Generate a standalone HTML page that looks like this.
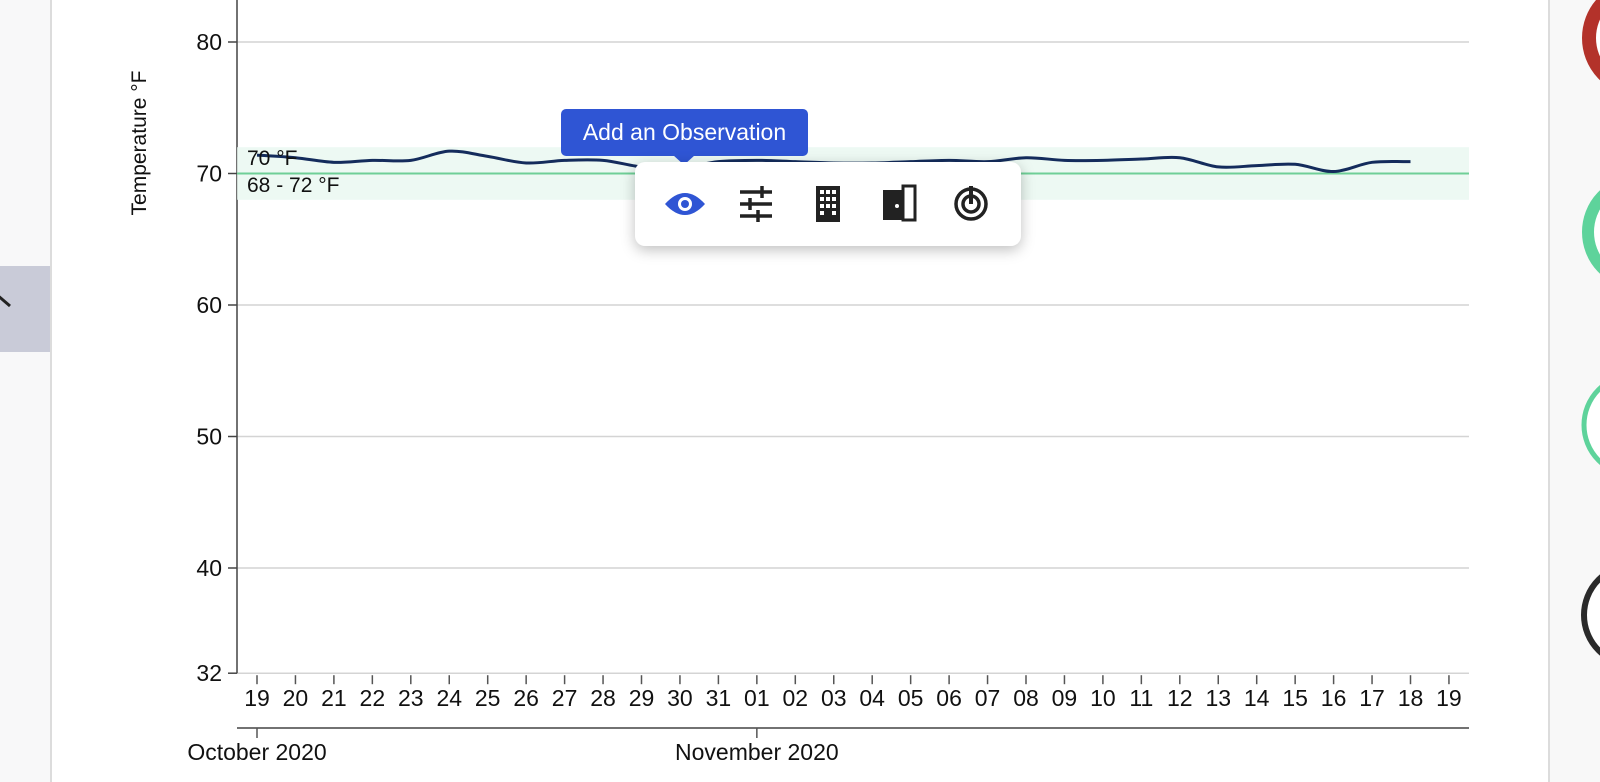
<!DOCTYPE html>
<html><head><meta charset="utf-8"><style>
html,body{margin:0;padding:0;width:1600px;height:782px;overflow:hidden;background:#fff;font-family:"Liberation Sans",sans-serif;}
.lp{position:absolute;left:0;top:0;width:50px;height:782px;background:#f8f8f9;border-right:2px solid #dcdcdc;}
.rp{position:absolute;left:1548px;top:0;width:52px;height:782px;background:#f8f8f8;border-left:2px solid #dcdcdc;overflow:hidden;}
.tab{position:absolute;left:0;top:266px;width:50px;height:86px;background:#c9cbd8;}
.tip{position:absolute;left:561px;top:109px;width:247px;height:47px;background:#2f55d4;border-radius:5px;color:#fff;font-size:23px;line-height:47px;text-align:center;}
.tip:after{content:"";position:absolute;left:112px;top:46px;border:11px solid transparent;border-top:10px solid #2f55d4;}
.menu{position:absolute;left:635px;top:162px;width:386px;height:84px;background:#fff;border-radius:10px;box-shadow:0 4px 14px rgba(0,0,0,0.25);}
</style></head><body>
<div class="lp"></div>
<div class="tab"><svg width="50" height="86"><path d="M-4 28 L10 40" stroke="#222" stroke-width="3" fill="none"/></svg></div>
<div class="rp">
<svg width="52" height="782" style="position:absolute;left:0;top:0">
<ellipse cx="87" cy="38" rx="48" ry="50" fill="#fff" stroke="#b3322a" stroke-width="14"/>
<ellipse cx="86" cy="232" rx="48" ry="50" fill="#fff" stroke="#5ed39b" stroke-width="12"/>
<ellipse cx="84" cy="425" rx="50" ry="50" fill="#fff" stroke="#5ed39b" stroke-width="5"/>
<ellipse cx="84" cy="615" rx="50" ry="50" fill="#fff" stroke="#2a2a2a" stroke-width="6"/>
</svg></div>
<svg id="chart" width="1600" height="782" style="position:absolute;left:0;top:0"></svg>
<div class="tip">Add an Observation</div>
<div class="menu">
<svg width="386" height="84">
<g transform="translate(50,42)"><path d="M-20 0 Q0 -22 20 0 Q0 22 -20 0Z" fill="#2f55d4"/><circle r="7" fill="#fff"/><circle r="4" fill="#2f55d4"/></g>
<g transform="translate(121,42)" stroke="#222" stroke-width="3.5"><line x1="-16" y1="-12" x2="16" y2="-12"/><line x1="-16" y1="0" x2="16" y2="0"/><line x1="-16" y1="12" x2="16" y2="12"/><line x1="6" y1="-18" x2="6" y2="-6" /><line x1="-6" y1="-6" x2="-6" y2="6"/><line x1="2" y1="6" x2="2" y2="18"/></g>
<g transform="translate(193,42)"><rect x="-12" y="-18" width="24" height="36" fill="#222"/><g fill="#fff"><rect x="-8" y="-14" width="4" height="4"/><rect x="-2" y="-14" width="4" height="4"/><rect x="4" y="-14" width="4" height="4"/><rect x="-8" y="-7" width="4" height="4"/><rect x="-2" y="-7" width="4" height="4"/><rect x="4" y="-7" width="4" height="4"/><rect x="-8" y="0" width="4" height="4"/><rect x="-2" y="0" width="4" height="4"/><rect x="4" y="0" width="4" height="4"/><rect x="-8" y="7" width="4" height="4"/><rect x="4" y="7" width="4" height="4"/></g></g>
<g transform="translate(264,42)"><rect x="-16" y="-14" width="20" height="30" fill="#222"/><rect x="4" y="-18" width="12" height="34" fill="none" stroke="#222" stroke-width="3"/><circle cx="-2" cy="2" r="2" fill="#fff"/></g>
<g transform="translate(336,42)" fill="none" stroke="#222" stroke-width="3.5"><circle r="15"/><circle r="8"/><line x1="0" y1="0" x2="0" y2="-18" stroke-width="4"/></g>
</svg></div>
<script>
const dayLabels=["19","20","21","22","23","24","25","26","27","28","29","30","31","01","02","03","04","05","06","07","08","09","10","11","12","13","14","15","16","17","18","19"];
const temps=[71.4,71.2,70.85,71,71,71.7,71.3,70.8,71,71,70.5,70.4,70.9,71,70.9,70.8,70.8,70.9,71,70.9,71.2,71,71,71.1,71.2,70.5,70.6,70.7,70.15,70.85,70.9];
const yTicks=[80,70,60,50,40,32];
const bandLow=68, bandHigh=72, target=70;
const months=[{label:"October 2020",day:0},{label:"November 2020",day:13}];
const NS="http://www.w3.org/2000/svg";
const svg=document.getElementById('chart');
const X0=257, DX=38.45, PL=237, PR=1469;
const x=i=>X0+i*DX;
const y=v=>173.5-(v-70)*13.15;
function el(t,a,p){const e=document.createElementNS(NS,t);for(const k in a)e.setAttribute(k,a[k]);(p||svg).appendChild(e);return e;}
yTicks.forEach(v=>{
 const g=el('line',{x1:PL,x2:PR,y1:y(v),y2:y(v),stroke:'#d4d4d4','stroke-width':1.5});
 
 
 el('line',{x1:228,x2:PL,y1:y(v),y2:y(v),stroke:'#444','stroke-width':1.5});
 const t=el('text',{x:222,y:y(v)+8,'text-anchor':'end','font-size':23,fill:'#111'});t.textContent=v;
 
 
});
el('line',{x1:PL,x2:PL,y1:0,y2:y(32),stroke:'#444','stroke-width':1.5});
const band=el('rect',{x:PL,y:y(bandHigh),width:PR-PL,height:y(bandLow)-y(bandHigh),fill:'#e9f8f0',opacity:0.8});


const tl=el('line',{x1:PL,x2:PR,y1:y(target),y2:y(target),stroke:'#6fcf97','stroke-width':2});


const pts=temps.map((v,i)=>[x(i),y(v)]);
let d="M"+pts[0][0]+","+pts[0][1];
for(let i=0;i<pts.length-1;i++){const p0=pts[Math.max(0,i-1)],p1=pts[i],p2=pts[i+1],p3=pts[Math.min(pts.length-1,i+2)];
 const c1=[p1[0]+(p2[0]-p0[0])/6,p1[1]+(p2[1]-p0[1])/6],c2=[p2[0]-(p3[0]-p1[0])/6,p2[1]-(p3[1]-p1[1])/6];
 d+=" C"+c1+" "+c2+" "+p2;}
const ln=el('path',{d:d,fill:'none',stroke:'#142c5c','stroke-width':3});


const l1=el('text',{x:247,y:165,'font-size':21,fill:'#111'});l1.textContent="70 °F";


const l2=el('text',{x:247,y:192,'font-size':21,fill:'#111'});l2.textContent="68 - 72 °F";


dayLabels.forEach((s,i)=>{
 el('line',{x1:x(i),x2:x(i),y1:y(32)+2,y2:y(32)+11,stroke:'#555','stroke-width':1.5});
 const t=el('text',{x:x(i),y:706,'text-anchor':'middle','font-size':23,fill:'#111'});t.textContent=s;
 
 
});
el('line',{x1:PL,x2:PR,y1:728,y2:728,stroke:'#444','stroke-width':1.5});
months.forEach(m=>{
 el('line',{x1:x(m.day),x2:x(m.day),y1:728,y2:738,stroke:'#555','stroke-width':1.5});
 const t=el('text',{x:x(m.day),y:760,'text-anchor':'middle','font-size':23,fill:'#111'});t.textContent=m.label;
 
 
});
const yt=el('text',{x:0,y:0,transform:'translate(146,143) rotate(-90)','text-anchor':'middle','font-size':21,fill:'#111'});yt.textContent="Temperature °F";


</script>
</body></html>
